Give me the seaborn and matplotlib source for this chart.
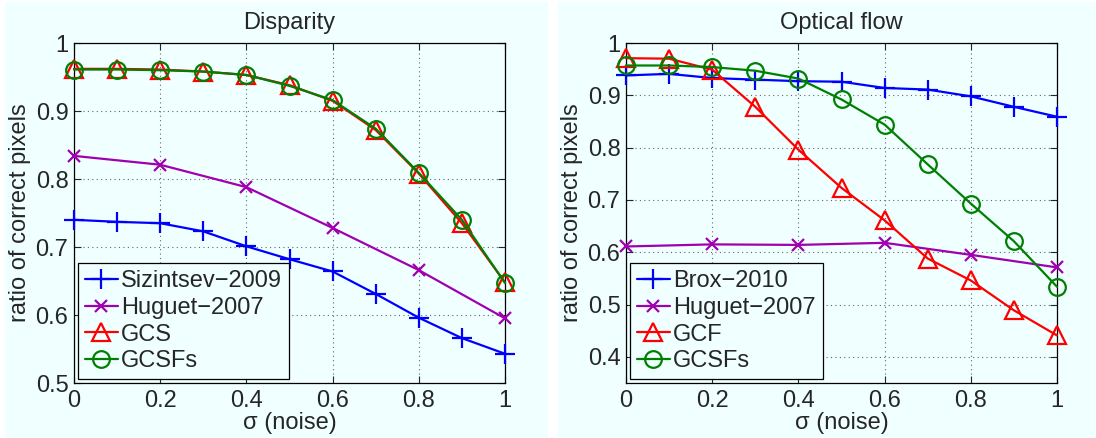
import numpy as np
import pandas as pd
import matplotlib
matplotlib.use("Agg")
import matplotlib.pyplot as plt
from matplotlib.patches import Rectangle
import seaborn as sns

# noise levels
sigma = [0.0, 0.1, 0.2, 0.3, 0.4, 0.5, 0.6, 0.7, 0.8, 0.9, 1.0]
sigma_huguet = [0.0, 0.2, 0.4, 0.6, 0.8, 1.0]

# Disparity
disp_sizintsev = [0.740, 0.737, 0.735, 0.723, 0.701, 0.682, 0.664, 0.631, 0.596, 0.566, 0.543]
disp_huguet = [0.834, 0.821, 0.788, 0.728, 0.666, 0.595]
disp_gcs = [0.962, 0.962, 0.961, 0.958, 0.953, 0.938, 0.915, 0.872, 0.808, 0.735, 0.648]
disp_gcsfs = [0.961, 0.961, 0.960, 0.958, 0.953, 0.937, 0.916, 0.874, 0.809, 0.740, 0.647]

# Optical flow
flow_brox = [0.938, 0.941, 0.933, 0.930, 0.927, 0.926, 0.914, 0.911, 0.898, 0.878, 0.859]
flow_huguet = [0.611, 0.615, 0.614, 0.618, 0.595, 0.571]
flow_gcf = [0.971, 0.970, 0.949, 0.878, 0.796, 0.723, 0.661, 0.588, 0.546, 0.489, 0.441]
flow_gcsfs = [0.957, 0.957, 0.954, 0.947, 0.932, 0.892, 0.844, 0.768, 0.693, 0.621, 0.534]

sns.set_style("ticks")
plt.rcParams['font.family'] = ['Liberation Sans', 'DejaVu Sans']
plt.rcParams['font.size'] = 17
plt.rcParams['xtick.direction'] = 'in'
plt.rcParams['ytick.direction'] = 'in'

FS = 17
bg = '#f0ffff'
BLUE = '#0000ff'
PURPLE = '#a000b0'
RED = '#ff0000'
GREEN = '#008000'

fig = plt.figure(figsize=(10.96, 4.38), dpi=100, facecolor='white')
# panel backgrounds
fig.patches.append(Rectangle((5 / 1096, 0), 543 / 1096, 436 / 438, transform=fig.transFigure,
                             facecolor=bg, edgecolor='none', zorder=-10))
fig.patches.append(Rectangle((558 / 1096, 0), 538 / 1096, 436 / 438, transform=fig.transFigure,
                             facecolor=bg, edgecolor='none', zorder=-10))

ax1 = fig.add_axes([74 / 1096, 55 / 438, 431 / 1096, 340 / 438])
ax2 = fig.add_axes([626 / 1096, 55 / 438, 431 / 1096, 340 / 438])


def draw(ax, series, title, ylim, yticks):
    ax.set_facecolor(bg)
    for x, y, lab, col, mk, ms in series:
        sns.lineplot(x=x, y=y, ax=ax, color=col, marker=mk, markersize=ms, linewidth=1.6,
                     markeredgewidth=1.6, markerfacecolor='none', markeredgecolor=col,
                     label=lab, clip_on=False, zorder=3)
    ax.set_xlim(0, 1)
    ax.set_ylim(*ylim)
    ax.set_xticks([0, 0.2, 0.4, 0.6, 0.8, 1])
    ax.set_xticklabels(['0', '0.2', '0.4', '0.6', '0.8', '1'])
    ax.set_yticks(yticks)
    ax.set_yticklabels([('%g' % t) for t in yticks])
    ax.tick_params(top=True, right=True, length=5, width=0.8, labelsize=FS, pad=4)
    ax.tick_params(axis='x', pad=5)
    ax.grid(True, linestyle=(0, (1, 3)), color='#666666', linewidth=0.8)
    for s in ax.spines.values():
        s.set_linewidth(0.9)
        s.set_color('black')
    ax.set_title(title, fontsize=FS, pad=10)
    ax.set_xlabel('σ (noise)', fontsize=FS, labelpad=0)
    ax.set_ylabel('ratio of correct pixels', fontsize=FS, labelpad=3)
    leg = ax.legend(loc='lower left', fontsize=FS, frameon=True, fancybox=False,
                    borderpad=0.3, labelspacing=0.2, handlelength=1.4, handletextpad=0.15,
                    borderaxespad=0.15)
    leg.get_frame().set_edgecolor('black')
    leg.get_frame().set_linewidth(0.9)
    leg.get_frame().set_facecolor(bg)
    leg.get_frame().set_alpha(1)


draw(ax1, [
    (sigma, disp_sizintsev, 'Sizintsev\u22122009', BLUE, '+', 14),
    (sigma_huguet, disp_huguet, 'Huguet\u22122007', PURPLE, 'x', 9),
    (sigma, disp_gcs, 'GCS', RED, '^', 13),
    (sigma, disp_gcsfs, 'GCSFs', GREEN, 'o', 12),
], 'Disparity', (0.5, 1), [0.5, 0.6, 0.7, 0.8, 0.9, 1])

draw(ax2, [
    (sigma, flow_brox, 'Brox\u22122010', BLUE, '+', 14),
    (sigma_huguet, flow_huguet, 'Huguet\u22122007', PURPLE, 'x', 9),
    (sigma, flow_gcf, 'GCF', RED, '^', 13),
    (sigma, flow_gcsfs, 'GCSFs', GREEN, 'o', 12),
], 'Optical flow', (0.35, 1), [0.4, 0.5, 0.6, 0.7, 0.8, 0.9, 1])

fig.savefig('out.png', dpi=100, facecolor='white')
